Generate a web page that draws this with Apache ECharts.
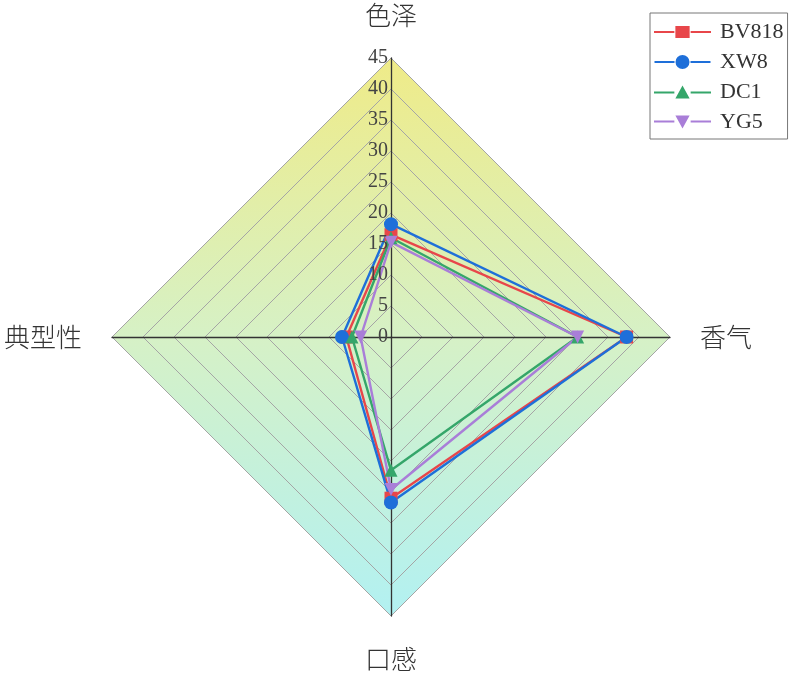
<!DOCTYPE html>
<html><head><meta charset="utf-8">
<script src="https://cdn.jsdelivr.net/npm/echarts@6/dist/echarts.min.js"></script>
<style>html,body{margin:0;padding:0;background:#fff}#c{width:800px;height:674px}</style>
</head><body><div id="c"></div>
<script>
// indicators listed in drawing order (counter-clockwise from top)
const indicators = ['色泽', '典型性', '口感', '香气'];
const axisMax = 45;
const tickStep = 5;
const seriesNames = ['BV818', 'XW8', 'DC1', 'YG5'];
// values in the same order as indicators: 色泽, 典型性, 口感, 香气
const BV818 = [16.5, 7.2, 26.0, 38.0];
const XW8 = [18.2, 7.9, 26.7, 38.0];
const DC1 = [16.0, 6.3, 21.5, 30.1];
const YG5 = [15.3, 4.9, 24.6, 30.1];
const seriesValues = [BV818, XW8, DC1, YG5];
const colors = ['#e8464a', '#1e6fd9', '#35a66a', '#a97ed8'];
const symbols = ['rect', 'circle', 'triangle', 'path://M0,0 L10,0 L5,9 Z'];
const legendIcons = [
  'path://M0,6 H20 V8 H0 Z M21,1 H35 V13 H21 Z M36,6 H56 V8 H36 Z',
  'path://M0,6 H20 V8 H0 Z M21,7 A7,7 0 1,0 35,7 A7,7 0 1,0 21,7 Z M36,6 H56 V8 H36 Z',
  'path://M0,6 H20 V8 H0 Z M21,13 L28,0 L35,13 Z M36,6 H56 V8 H36 Z',
  'path://M0,6 H20 V8 H0 Z M21,1 L35,1 L28,14 Z M36,6 H56 V8 H36 Z'
];
const backdrop = [axisMax, axisMax, axisMax, axisMax];

const cx = 391, cy = 337, R = 279;
const chart = echarts.init(document.getElementById('c'));
const dataSeries = seriesNames.map((n, i) => ({
  name: n, type: 'radar', z: 5,
  symbol: symbols[i], symbolSize: i === 1 ? 14 : 13,
  lineStyle: { color: colors[i], width: 2.4 },
  itemStyle: { color: colors[i] },
  data: [{ name: n, value: seriesValues[i] }]
}));
chart.setOption({
  animation: false,
  legend: {
    orient: 'vertical', left: 650, top: 13,
    data: seriesNames.map((n, i) => ({ name: n, icon: legendIcons[i], itemStyle: { color: colors[i] } })),
    borderColor: '#777', borderWidth: 1, borderRadius: 0,
    padding: [8, 4, 6, 4], itemGap: 8,
    itemWidth: 57, itemHeight: 14,
    textStyle: { fontFamily: 'Liberation Serif', fontSize: 22, color: '#333', padding: [0, 0, 0, 4] }
  },
  radar: {
    center: [cx, cy], radius: R, shape: 'polygon', z: 3,
    startAngle: 90, splitNumber: axisMax / tickStep,
    indicator: indicators.map(n => ({ name: n, min: 0, max: axisMax })),
    nameGap: 30,
    axisName: { color: '#333', fontSize: 26, fontFamily: 'Noto Sans CJK SC', fontWeight: 300 },
    axisLine: { lineStyle: { color: '#333', width: 1.3 } },
    splitLine: { lineStyle: { color: '#a5a5a5', width: 1 } },
    splitArea: { show: false },
    axisLabel: { show: false }
  },
  grid: { left: cx, top: cy - R, width: 1, height: R, z: 10 },
  xAxis: { type: 'value', show: false },
  yAxis: {
    type: 'value', min: 0, max: axisMax, interval: tickStep, z: 10,
    axisLine: { show: false }, axisTick: { show: false }, splitLine: { show: false },
    axisLabel: { fontFamily: 'Liberation Serif', fontSize: 20, color: '#444', margin: 3 }
  },
  series: [{
    type: 'radar', z: 1, silent: true, symbol: 'none',
    lineStyle: { width: 0 },
    areaStyle: { opacity: 1, color: new echarts.graphic.LinearGradient(0, 0, 0, 1, [
      { offset: 0, color: '#efeb88' },
      { offset: 0.5, color: '#d6f1c6' },
      { offset: 1, color: '#b2f1f2' }
    ]) },
    data: [{ value: backdrop }]
  }].concat(dataSeries)
});
</script></body></html>
